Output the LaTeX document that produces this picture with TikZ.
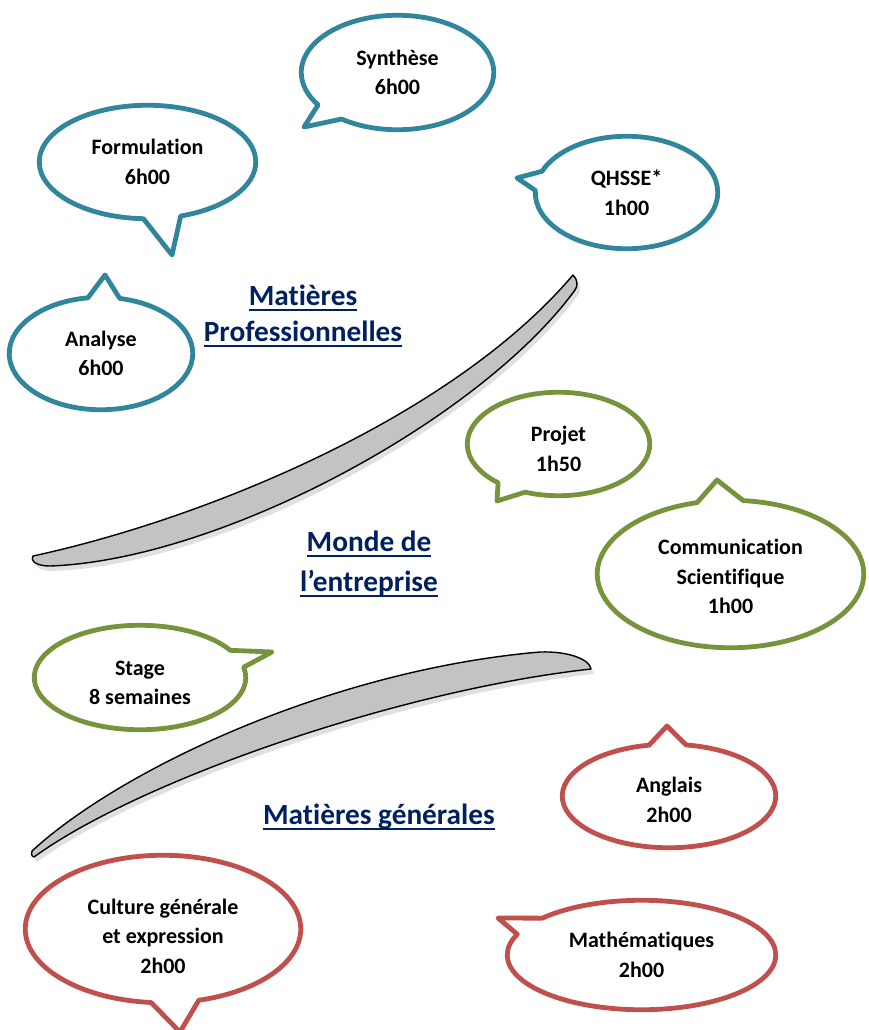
\documentclass[tikz,border=0pt]{standalone}
\usepackage{fontspec}
\setmainfont{Carlito}[Ligatures={NoCommon,NoContextual}]
\usetikzlibrary{shapes.callouts,shapes.geometric}
\definecolor{cprof}{HTML}{31859C}
\definecolor{cent}{HTML}{77933C}
\definecolor{cgen}{HTML}{C0504D}
\definecolor{cnavy}{HTML}{002060}
\definecolor{cswoosh}{HTML}{C3C3C3}
\newcommand\myul[1]{\setbox0\hbox{#1}\rlap{\rule[-6pt]{\wd0}{2.2pt}}\box0}
\newcommand\toppad[1]{\rule{0pt}{#1pt}}
\tikzset{
  bub/.style={ellipse callout, draw, line width=4.8pt, inner sep=0pt, align=center,
    callout pointer arc=20, line join=round,
    font=\bfseries\fontsize{22}{29.5}\selectfont},
  profbub/.style={bub, draw=cprof},
  entbub/.style={bub, draw=cent},
  genbub/.style={bub, draw=cgen},
  headtxt/.style={inner sep=0pt, align=center, text=cnavy},
  swoosh/.style={draw=black, line width=1.4pt, fill=cswoosh, line join=round},
  swshadow/.style={fill=black, opacity=0.12, draw=none}
}
\begin{document}
\begin{tikzpicture}[x=1pt,y=-1pt]
\useasboundingbox (0,0) rectangle (868,1030);
\fill[white] (0,0) rectangle (868,1030);

% shadows of the swooshes
\fill[swshadow, shift={(3,5)}] (33,556) .. controls (200,520) and (450,420) .. (573,275) .. controls (578,280) and (578,286) .. (575,290) .. controls (480,420) and (220,560) .. (50,566) .. controls (38,566) and (30,562) .. (33,556) -- cycle;
\fill[swshadow, shift={(3,5)}] (32,851) .. controls (120,770) and (330,670) .. (540,652) .. controls (570,651) and (590,660) .. (591,669) .. controls (400,690) and (140,780) .. (34,857) .. controls (31,856) and (31,853) .. (32,851) -- cycle;

% swooshes
\draw[swoosh] (33,556) .. controls (200,520) and (450,420) .. (573,275) .. controls (578,280) and (578,286) .. (575,290) .. controls (480,420) and (220,560) .. (50,566) .. controls (38,566) and (30,562) .. (33,556) -- cycle;
\draw[swoosh] (32,851) .. controls (120,770) and (330,670) .. (540,652) .. controls (570,651) and (590,660) .. (591,669) .. controls (400,690) and (140,780) .. (34,857) .. controls (31,856) and (31,853) .. (32,851) -- cycle;

% professional subjects
\node[profbub, minimum width=192.5pt, minimum height=114.5pt, callout absolute pointer={(304,127)}] (synth) at (397.5,72.5) {Synthèse\\6h00};
\node[profbub, minimum width=216.5pt, minimum height=113.5pt, callout absolute pointer={(172,255)}] (form) at (147.5,162) {Formulation\\6h00};
\node[profbub, minimum width=183.5pt, minimum height=112.5pt, callout absolute pointer={(105,275)}] (anal) at (101,353.5) {Analyse\\6h00};
\node[profbub, minimum width=182.5pt, minimum height=112.5pt, callout absolute pointer={(517,178)}] (qhsse) at (626.5,192.5) {QHSSE*\\1h00};

% business world
\node[entbub, minimum width=182.5pt, minimum height=103.5pt, callout absolute pointer={(497,501)}] (projet) at (558.5,444) {\toppad{25}Projet\\1h50};
\node[entbub, minimum width=266.5pt, minimum height=147.5pt, callout absolute pointer={(717,480)}] (comm) at (730.5,574) {\toppad{21}Communication\\Scientifique\\1h00};
\node[entbub, minimum width=211.5pt, minimum height=104.5pt, callout absolute pointer={(272,652)}] (stage) at (140,677.5) {\toppad{25}Stage\\8 semaines};

% general subjects
\node[genbub, minimum width=213.5pt, minimum height=103.5pt, callout absolute pointer={(667,726)}] (angl) at (669,796) {\toppad{23}Anglais\\2h00};
\node[genbub, minimum width=275.5pt, minimum height=147.5pt, callout absolute pointer={(180,1032)}] (cult) at (163,929) {\toppad{30}Culture générale\\et expression\\2h00};
\node[genbub, minimum width=268.5pt, minimum height=109.5pt, callout absolute pointer={(498,918)}] (math) at (641.5,955) {Mathématiques\\2h00};

% headings
\node[headtxt, font=\bfseries\fontsize{29.3}{36}\selectfont] (hprof) at (303,315.8) {\strut\myul{Matières}\\\strut\myul{Professionnelles}};
\node[headtxt, font=\bfseries\fontsize{29.3}{40}\selectfont] (hent) at (369,563) {\strut\myul{Monde de}\\\strut\myul{l’entreprise}};
\node[headtxt, font=\bfseries\fontsize{29.3}{36}\selectfont] (hgen) at (379,816.8) {\strut\myul{Matières générales}};
\end{tikzpicture}
\end{document}
